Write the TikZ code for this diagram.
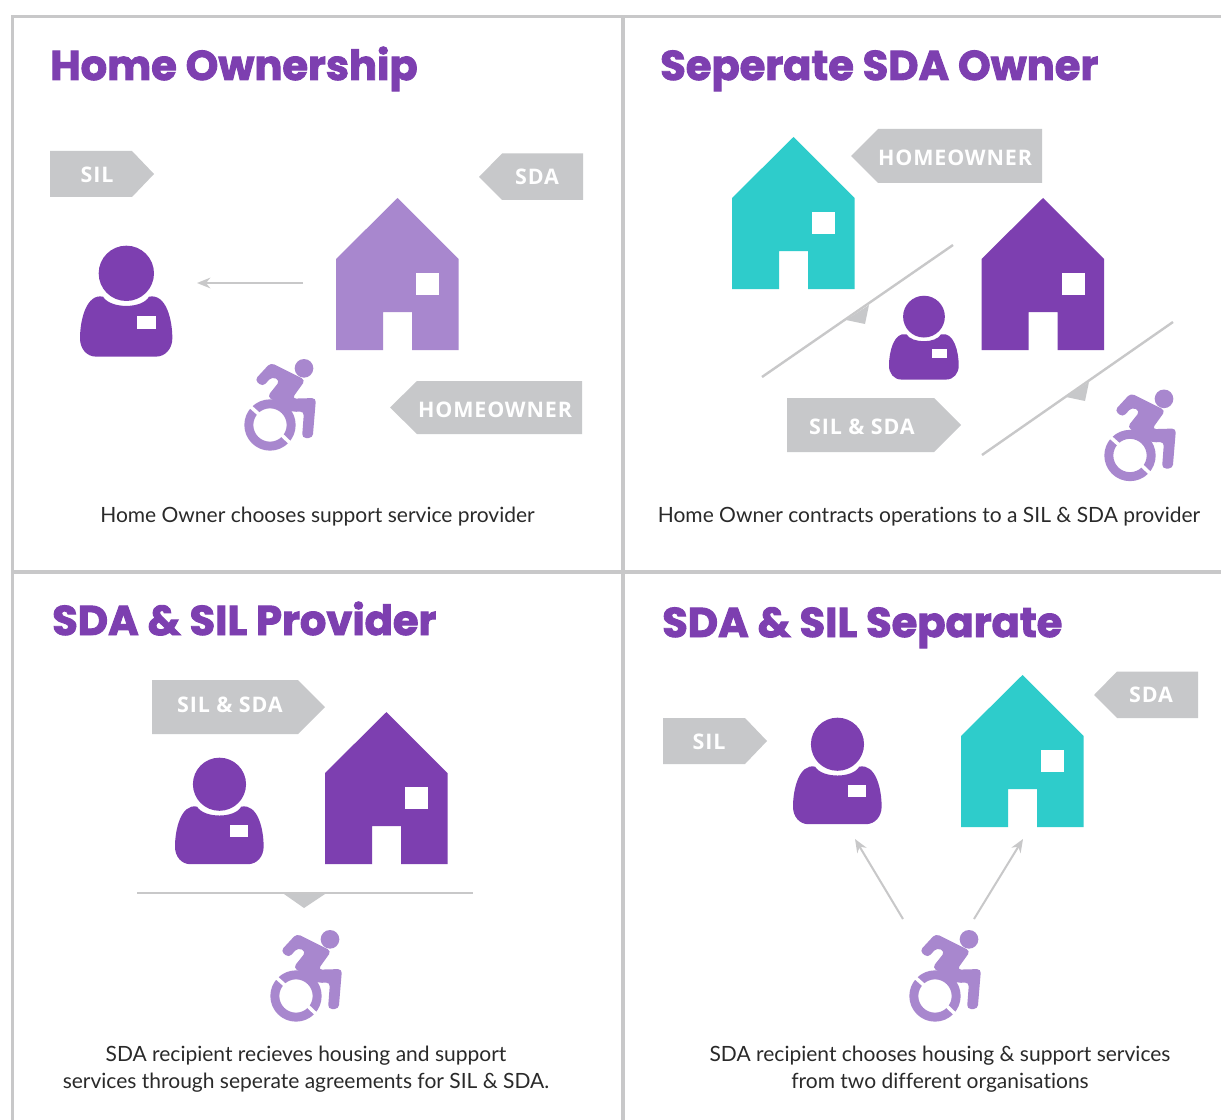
\documentclass[tikz,border=0pt]{standalone}
\usepackage{fontspec}
\setmainfont[Ligatures=NoCommon]{Lato}
\newfontfamily\titlefont[BoldFeatures={FakeBold=2.2}]{Poppins}
\newfontfamily\tagfont[LetterSpace=4]{Open Sans}
\usetikzlibrary{arrows.meta}
\definecolor{fr}{HTML}{C8C8C9}
\definecolor{tagc}{HTML}{C7C8CA}
\definecolor{pur}{HTML}{7D3FB0}
\definecolor{lil}{HTML}{A887CE}
\definecolor{teal1}{HTML}{2ECCCB}
\definecolor{body}{HTML}{2A2A2A}
\tikzset{
  frameline/.style={draw=fr,line width=2.6pt},
  tagbox/.style={fill=tagc,draw=none},
  tagtext/.style={text=white,font=\tagfont\bfseries\fontsize{16.1}{18}\selectfont,inner sep=0pt},
  titletext/.style={text=pur,font=\titlefont\bfseries\fontsize{31.2}{34}\selectfont,anchor=base west,inner sep=0pt},
  bodytext/.style={text=body,font=\fontsize{15.75}{20.2}\selectfont,align=center,inner sep=0pt},
  grayline/.style={draw=fr,line width=1.8pt},
  grayarrow/.style={draw=fr,line width=1.5pt,-{Stealth[length=10pt,width=8pt]}},
  wedge/.style={fill=tagc,draw=none}
}
\newcommand{\houseicon}[3]{%
  \begin{scope}[shift={(#1,#2)}]
    \fill[#3] (0,61) -- (61.5,0) -- (122.5,61) -- (122.5,152) -- (76,152) -- (76,114) -- (47,114) -- (47,152) -- (0,152) -- cycle;
    \fill[white] (80,75) rectangle (103,97);
  \end{scope}}
\newcommand{\personicon}[3]{%
  \begin{scope}[shift={(#1,#2)},scale=#3]
  \begin{scope}[scale=1/3,shift={(-31,-18)}]
    \fill[pur] (170,100) circle (83);
    \fill[pur] (238,170) .. controls (218,207) and (122,207) .. (100,170)
      .. controls (50,160) and (31,240) .. (31,295)
      .. controls (31,325) and (50,350) .. (80,350)
      -- (258,350) .. controls (288,350) and (308,325) .. (308,295)
      .. controls (308,240) and (290,160) .. (238,170) -- cycle;
    \fill[white] (202,228) rectangle (260,266);
  \end{scope}
  \end{scope}}
\newcommand{\chairicon}[2]{%
  \begin{scope}[shift={(230+#1,350+#2)},scale=1/3]
    \fill[lil,even odd rule] (120,225) circle (77) (120,225) circle (50);
    \draw[white,line width=2.6pt] (48,158) -- (86,192);
    \draw[white,line width=2.6pt] (152,252) -- (192,290);
    \fill[lil] (222,55) circle (28);
    \fill[lil,rounded corners=3pt] (74,90) -- (122,38) -- (226,90) -- (186,146) -- (258,144) -- (248,264) -- (216,264) -- (222,184) -- (186,186) -- (112,140) -- (150,92) -- (126,80) -- (98,110) -- cycle;
  \end{scope}}
\begin{document}
\begin{tikzpicture}[x=0.75pt,y=-0.75pt]
\useasboundingbox (0,0) rectangle (1221,1120);
\fill[white] (0,0) rectangle (1221,1120);
% frame
\coordinate (ftl) at (12.5,16.5); \coordinate (ftr) at (1221,16.5);
\coordinate (fbl) at (12.5,1120); \coordinate (fmt) at (623,16.5);
\coordinate (fmb) at (623,1120); \coordinate (fml) at (12.5,572); \coordinate (fmr) at (1221,572);
\draw[frameline] (ftr) -- (ftl) -- (fbl);
\draw[frameline] (fmt) -- (fmb);
\draw[frameline] (fml) -- (fmr);
% titles
\node[titletext] (t1) at (50,80) {Home Ownership};
\node[titletext] (t2) at (660,80) {Seperate SDA Owner};
\node[titletext] (t3) at (52,635) {SDA \& SIL Provider};
\node[titletext] (t4) at (662,637) {SDA \& SIL Separate};
% panel 1
\fill[tagbox] (50,151) -- (132,151) -- (154,174) -- (132,197) -- (50,197) -- cycle;
\node[tagtext] (l1) at (97,175) {SIL};
\fill[tagbox] (583,153.5) -- (502,153.5) -- (479,177) -- (502,200) -- (583,200) -- cycle;
\node[tagtext] (l2) at (537,177) {SDA};
\fill[tagbox] (582,381) -- (417,381) -- (390,407.5) -- (417,434) -- (582,434) -- cycle;
\node[tagtext] (l3) at (495,410) {HOMEOWNER};
\personicon{80}{246}{1}
\houseicon{336}{198}{lil}
\chairicon{0}{0}
\coordinate (a1s) at (303,283); \coordinate (a1e) at (197,283);
\draw[grayarrow] (a1s) -- (a1e);
\node[bodytext] (b1) at (317.5,517) {Home Owner chooses support service provider};
% panel 2
\houseicon{732}{137}{teal1}
\houseicon{981.5}{198}{pur}
\fill[tagbox] (1042,129) -- (878,129) -- (851,156) -- (878,183) -- (1042,183) -- cycle;
\node[tagtext] (l4) at (955,158) {HOMEOWNER};
\fill[tagbox] (787,398) -- (934,398) -- (961,425) -- (934,452) -- (787,452) -- cycle;
\node[tagtext] (l5) at (862,427) {SIL \& SDA};
\personicon{889}{296}{0.755}
\chairicon{860}{30.5}
\coordinate (d1s) at (762,377); \coordinate (d1e) at (953,245);
\draw[grayline] (d1s) -- (d1e);
\fill[wedge] (846,320) -- (869,305) -- (865,324) -- cycle;
\coordinate (d2s) at (982,455); \coordinate (d2e) at (1173,322);
\draw[grayline] (d2s) -- (d2e);
\fill[wedge] (1066,397) -- (1089,382) -- (1085,401) -- cycle;
\node[bodytext] (b2) at (929,517) {Home Owner contracts operations to a SIL \& SDA provider};
% panel 3
\fill[tagbox] (152,680) -- (298,680) -- (325,707) -- (298,734) -- (152,734) -- cycle;
\node[tagtext] (l6) at (230,705) {SIL \& SDA};
\personicon{175}{758}{0.96}
\houseicon{325}{712}{pur}
\coordinate (h1s) at (137,893); \coordinate (h1e) at (473,893);
\draw[grayline] (h1s) -- (h1e);
\fill[wedge] (284,894) -- (325,894) -- (304,908) -- cycle;
\chairicon{26}{571}
\node[bodytext] (b3) at (306,1069.5) {SDA recipient recieves housing and support\\services through seperate agreements for SIL \& SDA.};
% panel 4
\fill[tagbox] (1198,671.5) -- (1117,671.5) -- (1094,695) -- (1117,718) -- (1198,718) -- cycle;
\node[tagtext] (l7) at (1151,695) {SDA};
\fill[tagbox] (663,718) -- (745,718) -- (767,741) -- (745,764) -- (663,764) -- cycle;
\node[tagtext] (l8) at (709,742) {SIL};
\personicon{793}{718}{0.96}
\houseicon{961}{675}{teal1}
\chairicon{665}{571}
\coordinate (a2s) at (903,919); \coordinate (a2e) at (855,839);
\coordinate (a3s) at (974,919); \coordinate (a3e) at (1023,839);
\draw[grayarrow] (a2s) -- (a2e);
\draw[grayarrow] (a3s) -- (a3e);
\node[bodytext] (b4) at (940,1069.5) {SDA recipient chooses housing \& support services\\from two different organisations};
\end{tikzpicture}
\end{document}
